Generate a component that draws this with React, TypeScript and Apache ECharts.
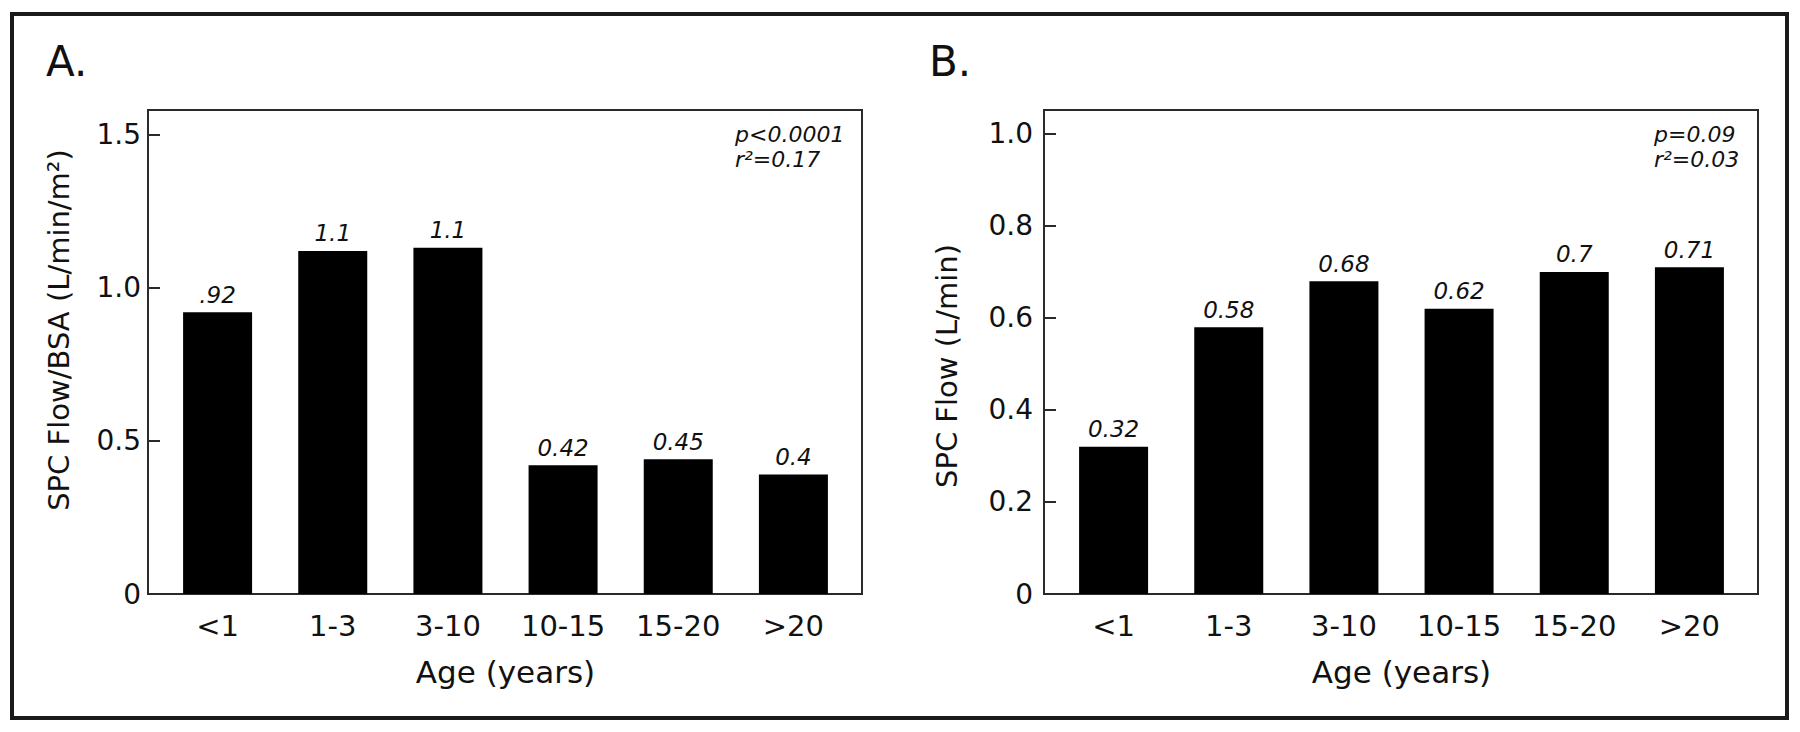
import React, { useEffect, useRef } from "react";
import * as echarts from "echarts";

// ---- data ----
const categories = ["<1", "1-3", "3-10", "10-15", "15-20", ">20"];
const flowBsaValues = [0.92, 1.12, 1.13, 0.42, 0.44, 0.39];
const flowBsaLabels = [".92", "1.1", "1.1", "0.42", "0.45", "0.4"];
const flowValues = [0.32, 0.58, 0.68, 0.62, 0.7, 0.71];
const flowLabels = ["0.32", "0.58", "0.68", "0.62", "0.7", "0.71"];
const statsA = ["p<0.0001", "r²=0.17"];
const statsB = ["p=0.09", "r²=0.03"];
const panelTitles = ["A.", "B."];
const yNames = ["SPC Flow/BSA (L/min/m²)", "SPC Flow (L/min)"];
const xName = "Age (years)";
const yMax = [1.58, 1.052];
const yInterval = [0.5, 0.2];

const FONT = "DejaVu Sans";
const INK = "#111";

export default function App() {
  const ref = useRef<HTMLDivElement>(null);

  useEffect(() => {
    if (!ref.current) return;
    const chart = echarts.init(ref.current, undefined, { renderer: "svg" });

    const gridTop = 110;
    const gridH = 484;
    const gridLefts = [160, 1056];
    const gridW = 691;
    const axisOffset = 12;
    const labelMargins = [7, 11];
    const nameGaps = [75, 83];
    const namePads = [
      [0, 0, 0, 44],
      [0, 28, 0, 0],
    ];
    const valuesArr = [flowBsaValues, flowValues];
    const labelsArr = [flowBsaLabels, flowLabels];
    const statsArr = [statsA, statsB];
    const statsX = [735, 1654];
    const titleX = [46, 929];

    const fmt = (interval: number) => (v: number) => {
      const k = Math.round(v / interval);
      if (Math.abs(v - k * interval) > 1e-6) return "";
      return v === 0 ? "0" : v.toFixed(1);
    };

    const graphic: any[] = [
      {
        type: "rect",
        shape: { x: 12, y: 14, width: 1775, height: 704 },
        style: { fill: "none", stroke: "#1a1a1a", lineWidth: 4 },
        silent: true,
      },
    ];
    [0, 1].forEach((i) => {
      const bx = gridLefts[i] - axisOffset;
      graphic.push({
        type: "rect",
        shape: { x: bx, y: gridTop, width: gridW + 2 * axisOffset - 1, height: gridH },
        style: { fill: "none", stroke: "#2a2a2a", lineWidth: 2 },
        silent: true,
      });
      graphic.push({
        type: "text",
        x: titleX[i],
        y: 61,
        style: {
          text: panelTitles[i],
          font: `42px "${FONT}"`,
          fill: INK,
          textAlign: "left",
          textVerticalAlign: "middle",
        },
      });
      statsArr[i].forEach((t, j) => {
        graphic.push({
          type: "text",
          x: statsX[i],
          y: 134 + j * 25,
          style: {
            text: t,
            font: `italic 22px "${FONT}"`,
            fill: INK,
            textAlign: "left",
            textVerticalAlign: "middle",
          },
        });
      });
    });

    const option: any = {
      animation: false,
      backgroundColor: "#fff",
      textStyle: { fontFamily: FONT },
      grid: [0, 1].map((i) => ({
        left: gridLefts[i],
        top: gridTop,
        width: gridW,
        height: gridH,
      })),
      xAxis: [0, 1].map((i) => ({
        type: "category",
        gridIndex: i,
        data: categories,
        axisLine: { show: false },
        axisTick: { show: false },
        axisLabel: { fontSize: 29, color: INK, margin: 17, fontFamily: FONT },
        name: xName,
        nameLocation: "middle",
        nameGap: 62,
        nameTextStyle: { fontSize: 31, color: INK, fontFamily: FONT },
      })),
      yAxis: [0, 1].map((i) => ({
        type: "value",
        gridIndex: i,
        min: 0,
        max: yMax[i],
        interval: yInterval[i],
        offset: axisOffset,
        axisLine: { show: true, lineStyle: { color: "#2a2a2a", width: 2 } },
        axisTick: { show: true, inside: true, length: 12, lineStyle: { color: "#2a2a2a", width: 2 } },
        splitLine: { show: false },
        axisLabel: {
          fontSize: 28,
          color: INK,
          margin: labelMargins[i],
          fontFamily: FONT,
          formatter: fmt(yInterval[i]),
          showMaxLabel: false,
        },
        name: yNames[i],
        nameLocation: "middle",
        nameRotate: 90,
        nameGap: nameGaps[i],
        nameTextStyle: { fontSize: 29, color: INK, fontFamily: FONT, padding: namePads[i] },
      })),
      series: [0, 1].map((i) => ({
        type: "bar",
        xAxisIndex: i,
        yAxisIndex: i,
        data: valuesArr[i],
        barWidth: 69,
        itemStyle: { color: "#000" },
        label: {
          show: true,
          position: "top",
          distance: 6,
          formatter: (p: any) => labelsArr[i][p.dataIndex],
          fontStyle: "italic",
          fontSize: 23,
          color: INK,
          fontFamily: FONT,
        },
      })),
      graphic,
    };

    chart.setOption(option);
    return () => chart.dispose();
  }, []);

  return (
    <div
      ref={ref}
      style={{ position: "fixed", left: 0, top: 0, width: 1800, height: 732, background: "#fff" }}
    />
  );
}
